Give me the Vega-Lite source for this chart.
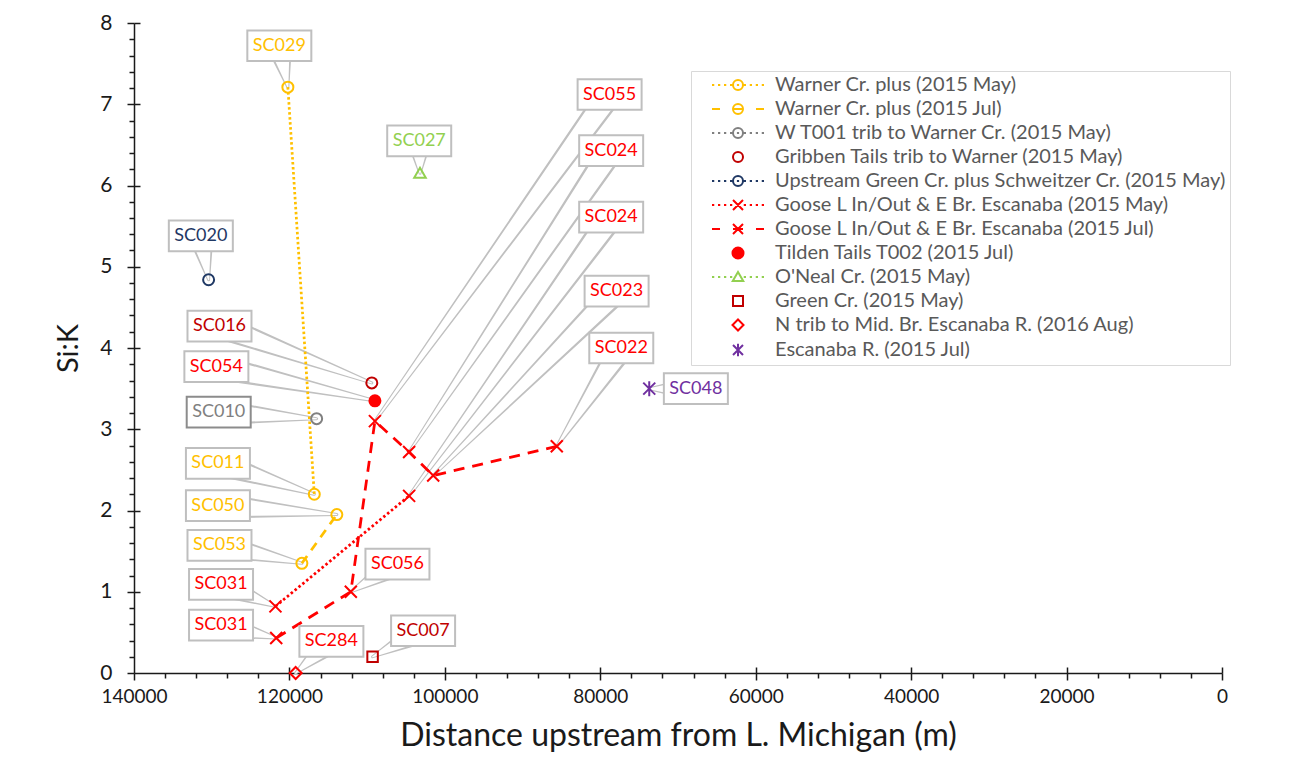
{
  "$schema": "https://vega.github.io/schema/vega-lite/v6.json",
  "width": 1088,
  "height": 650,
  "autosize": {"type": "none"},
  "padding": {"left": 134, "top": 23, "right": 69, "bottom": 90},
  "background": "white",
  "config": {
    "view": {"stroke": null},
    "font": "Lato",
    "legend": {
      "padding": 4,
      "fillColor": "white",
      "strokeColor": "#d9d9d9",
      "labelFont": "Lato",
      "labelFontSize": 20,
      "labelColor": "#595959",
      "labelLimit": 0,
      "symbolSize": 100,
      "symbolStrokeWidth": 2,
      "symbolOpacity": 1,
      "symbolOffset": 33,
      "labelOffset": 27,
      "rowPadding": 4
    }
  },
  "datasets": {
    "main": [
      {"series": "Warner Cr. plus (2015 May)", "site": "SC029", "dist": 120200, "sik": 7.21, "lx": 121300, "ly": 7.72},
      {"series": "Warner Cr. plus (2015 May)", "site": "SC011", "dist": 116800, "sik": 2.2, "lx": 129200, "ly": 2.58},
      {"series": "Warner Cr. plus (2015 Jul)", "site": "SC050", "dist": 113900, "sik": 1.95, "lx": 129200, "ly": 2.06},
      {"series": "Warner Cr. plus (2015 Jul)", "site": "SC053", "dist": 118400, "sik": 1.35, "lx": 129000, "ly": 1.57},
      {"series": "W T001 trib to Warner Cr. (2015 May)", "site": "SC010", "dist": 116500, "sik": 3.13, "lx": 129100, "ly": 3.21},
      {"series": "Gribben Tails trib to Warner (2015 May)", "site": "SC016", "dist": 109400, "sik": 3.57, "lx": 129000, "ly": 4.27},
      {"series": "Upstream Green Cr. plus Schweitzer Cr. (2015 May)", "site": "SC020", "dist": 130400, "sik": 4.84, "lx": 131400, "ly": 5.38},
      {"series": "Goose L In/Out & E Br. Escanaba (2015 May)", "site": "SC031", "dist": 121800, "sik": 0.82, "lx": 128800, "ly": 1.09},
      {"series": "Goose L In/Out & E Br. Escanaba (2015 May)", "site": "SC024", "dist": 104600, "sik": 2.18, "lx": 78600, "ly": 5.61},
      {"series": "Goose L In/Out & E Br. Escanaba (2015 Jul)", "site": "SC031", "dist": 121700, "sik": 0.43, "lx": 128800, "ly": 0.59},
      {"series": "Goose L In/Out & E Br. Escanaba (2015 Jul)", "site": "SC056", "dist": 112100, "sik": 1.0, "lx": 106100, "ly": 1.34},
      {"series": "Goose L In/Out & E Br. Escanaba (2015 Jul)", "site": "SC055", "dist": 109000, "sik": 3.1, "lx": 78800, "ly": 7.12},
      {"series": "Goose L In/Out & E Br. Escanaba (2015 Jul)", "site": "SC024", "dist": 104600, "sik": 2.72, "lx": 78600, "ly": 6.43},
      {"series": "Goose L In/Out & E Br. Escanaba (2015 Jul)", "site": "SC023", "dist": 101500, "sik": 2.43, "lx": 77900, "ly": 4.7},
      {"series": "Goose L In/Out & E Br. Escanaba (2015 Jul)", "site": "SC022", "dist": 85600, "sik": 2.79, "lx": 77300, "ly": 4.0},
      {"series": "Tilden Tails T002 (2015 Jul)", "site": "SC054", "dist": 109000, "sik": 3.35, "lx": 129400, "ly": 3.77},
      {"series": "O'Neal Cr. (2015 May)", "site": "SC027", "dist": 103200, "sik": 6.15, "lx": 103300, "ly": 6.55},
      {"series": "Green Cr. (2015 May)", "site": "SC007", "dist": 109300, "sik": 0.2, "lx": 102800, "ly": 0.52},
      {"series": "N trib to Mid. Br. Escanaba R. (2016 Aug)", "site": "SC284", "dist": 119200, "sik": 0.0, "lx": 114600, "ly": 0.39},
      {"series": "Escanaba R. (2015 Jul)", "site": "SC048", "dist": 73700, "sik": 3.5, "lx": 67700, "ly": 3.5}
    ]
  },
  "data": {"name": "main"},
  "resolve": {"axis": {"x": "independent", "y": "independent"}, "scale": {"size": "independent"}},
  "layer": [
    {
      "transform": [
        {"fold": ["dist", "lx"], "as": ["kx", "vx"]},
        {"fold": ["sik", "ly"], "as": ["ky", "vy"]},
        {"filter": "(datum.kx === 'dist') === (datum.ky === 'sik')"}
      ],
      "mark": {"type": "trail", "color": "#c0c0c0"},
      "encoding": {
        "x": {"field": "vx", "type": "quantitative", "scale": {"domain": [0, 140000], "reverse": true, "nice": false}, "axis": null},
        "y": {"field": "vy", "type": "quantitative", "scale": {"domain": [0, 8], "nice": false}, "axis": null},
        "detail": [{"field": "site"}, {"field": "series"}],
        "size": {"field": "kx", "type": "ordinal", "scale": {"type": "point", "domain": ["dist", "lx"], "range": [3, 26], "padding": 0}, "legend": null}
      }
    },
    {
      "transform": [
        {"fold": ["dist", "lx"], "as": ["kx", "vx"]},
        {"fold": ["sik", "ly"], "as": ["ky", "vy"]},
        {"filter": "(datum.kx === 'dist') === (datum.ky === 'sik')"}
      ],
      "mark": {"type": "trail", "color": "white"},
      "encoding": {
        "x": {"field": "vx", "type": "quantitative", "axis": null},
        "y": {"field": "vy", "type": "quantitative", "axis": null},
        "detail": [{"field": "site"}, {"field": "series"}],
        "size": {"field": "kx", "type": "ordinal", "scale": {"type": "point", "domain": ["dist", "lx"], "range": [0, 21], "padding": 0}, "legend": null}
      }
    },
    {
      "transform": [{"filter": {"field": "series", "oneOf": ["Warner Cr. plus (2015 May)", "Warner Cr. plus (2015 Jul)", "Goose L In/Out & E Br. Escanaba (2015 May)", "Goose L In/Out & E Br. Escanaba (2015 Jul)"]}}],
      "mark": {"type": "line", "strokeWidth": 2.75},
      "encoding": {
        "x": {"field": "dist", "type": "quantitative", "axis": {"orient": "bottom", "values": [0, 20000, 40000, 60000, 80000, 100000, 120000, 140000], "format": "d", "grid": false, "tickSize": 7, "tickWidth": 1.5, "tickColor": "#1a1a1a", "domainColor": "#1a1a1a", "domainWidth": 1.5, "labelFont": "Lato", "labelFontSize": 19, "labelColor": "#1a1a1a", "labelPadding": 7, "labelFlush": false, "labelOverlap": false, "title": "Distance upstream from L. Michigan (m)", "titleFont": "Lato", "titleFontSize": 32, "titleFontWeight": "normal", "titleColor": "#1a1a1a", "titlePadding": 14}},
        "y": {"field": "sik", "type": "quantitative", "axis": {"orient": "left", "values": [0, 1, 2, 3, 4, 5, 6, 7, 8], "grid": false, "tickSize": 7, "tickWidth": 1.5, "tickColor": "#1a1a1a", "domainColor": "#1a1a1a", "domainWidth": 1.5, "labelFont": "Lato", "labelFontSize": 21, "labelColor": "#1a1a1a", "labelPadding": 15, "labelFlush": false, "title": "Si:K", "titleFont": "Lato", "titleFontSize": 29, "titleFontWeight": "normal", "titleColor": "#1a1a1a", "titlePadding": 16}},
        "stroke": {"field": "series", "type": "nominal"},
        "strokeDash": {"field": "series", "type": "nominal", "scale": {"domain": ["Warner Cr. plus (2015 May)", "Warner Cr. plus (2015 Jul)", "Goose L In/Out & E Br. Escanaba (2015 May)", "Goose L In/Out & E Br. Escanaba (2015 Jul)"], "range": [[2.5, 2.5], [9, 7], [2.5, 2.5], [11, 8]]}, "legend": null}
      }
    },
    {
      "transform": [{"filter": {"field": "series", "oneOf": ["Warner Cr. plus (2015 May)", "Warner Cr. plus (2015 Jul)", "W T001 trib to Warner Cr. (2015 May)", "Gribben Tails trib to Warner (2015 May)", "Upstream Green Cr. plus Schweitzer Cr. (2015 May)", "Tilden Tails T002 (2015 Jul)"]}}],
      "mark": {"type": "point", "shape": "circle", "size": 121, "strokeWidth": 2, "opacity": 1},
      "encoding": {
        "x": {"field": "dist", "type": "quantitative", "axis": {"orient": "bottom", "values": [4000, 8000, 12000, 16000, 24000, 28000, 32000, 36000, 44000, 48000, 52000, 56000, 64000, 68000, 72000, 76000, 84000, 88000, 92000, 96000, 104000, 108000, 112000, 116000, 124000, 128000, 132000, 136000], "labels": false, "domain": false, "grid": false, "tickSize": 5, "tickWidth": 1.5, "tickColor": "#1a1a1a", "title": null}},
        "y": {"field": "sik", "type": "quantitative", "axis": {"orient": "left", "values": [0.2, 0.4, 0.6, 0.8, 1.2, 1.4, 1.6, 1.8, 2.2, 2.4, 2.6, 2.8, 3.2, 3.4, 3.6, 3.8, 4.2, 4.4, 4.6, 4.8, 5.2, 5.4, 5.6, 5.8, 6.2, 6.4, 6.6, 6.8, 7.2, 7.4, 7.6, 7.8], "labels": false, "domain": false, "grid": false, "tickSize": 5, "tickWidth": 1.5, "tickColor": "#1a1a1a", "title": null}},
        "stroke": {"field": "series", "type": "nominal"},
        "fill": {"field": "series", "type": "nominal"}
      }
    },
    {
      "transform": [{"filter": {"field": "series", "oneOf": ["Goose L In/Out & E Br. Escanaba (2015 May)", "Goose L In/Out & E Br. Escanaba (2015 Jul)"]}}],
      "mark": {"type": "point", "shape": "M-1,-1L1,1M-1,1L1,-1", "size": 144, "strokeWidth": 2, "opacity": 1},
      "encoding": {
        "x": {"field": "dist", "type": "quantitative", "axis": {"orient": "bottom", "values": [0, 20000, 40000, 60000, 80000, 100000, 120000], "labels": false, "domain": false, "grid": false, "tickSize": 6, "offset": -6, "tickWidth": 1.5, "tickColor": "#1a1a1a", "title": null}},
        "y": {"field": "sik", "type": "quantitative", "axis": {"orient": "left", "values": [1, 2, 3, 4, 5, 6, 7, 8], "labels": false, "domain": false, "grid": false, "tickSize": 6, "offset": -6, "tickWidth": 1.5, "tickColor": "#1a1a1a", "title": null}},
        "stroke": {"field": "series", "type": "nominal"},
        "fill": {"field": "series", "type": "nominal"}
      }
    },
    {
      "transform": [{"filter": {"field": "series", "equal": "O'Neal Cr. (2015 May)"}}],
      "mark": {"type": "point", "shape": "M0,-1L1.05,0.8L-1.05,0.8Z", "size": 121, "strokeWidth": 2, "opacity": 1},
      "encoding": {
        "x": {"field": "dist", "type": "quantitative", "axis": null},
        "y": {"field": "sik", "type": "quantitative", "axis": null},
        "stroke": {"field": "series", "type": "nominal"},
        "fill": {"field": "series", "type": "nominal"}
      }
    },
    {
      "transform": [{"filter": {"field": "series", "equal": "Green Cr. (2015 May)"}}],
      "mark": {"type": "point", "shape": "M-1,-1L1,-1L1,1L-1,1Z", "size": 110, "strokeWidth": 2, "opacity": 1},
      "encoding": {
        "x": {"field": "dist", "type": "quantitative", "axis": null},
        "y": {"field": "sik", "type": "quantitative", "axis": null},
        "stroke": {"field": "series", "type": "nominal"},
        "fill": {"field": "series", "type": "nominal"}
      }
    },
    {
      "transform": [{"filter": {"field": "series", "equal": "N trib to Mid. Br. Escanaba R. (2016 Aug)"}}],
      "mark": {"type": "point", "shape": "M0,-1L1,0L0,1L-1,0Z", "size": 144, "strokeWidth": 2, "opacity": 1},
      "encoding": {
        "x": {"field": "dist", "type": "quantitative", "axis": null},
        "y": {"field": "sik", "type": "quantitative", "axis": null},
        "stroke": {"field": "series", "type": "nominal"},
        "fill": {"field": "series", "type": "nominal"}
      }
    },
    {
      "transform": [{"filter": {"field": "series", "equal": "Escanaba R. (2015 Jul)"}}],
      "mark": {"type": "point", "shape": "M-1,-1L1,1M-1,1L1,-1M0,-1.25L0,1.25", "size": 144, "strokeWidth": 2, "opacity": 1},
      "encoding": {
        "x": {"field": "dist", "type": "quantitative", "axis": null},
        "y": {"field": "sik", "type": "quantitative", "axis": null},
        "stroke": {"field": "series", "type": "nominal"},
        "fill": {"field": "series", "type": "nominal"}
      }
    },
    {
      "transform": [{"filter": {"field": "series", "equal": "__legend_only__"}}],
      "mark": {"type": "point", "strokeWidth": 2, "opacity": 1},
      "encoding": {
        "x": {"field": "dist", "type": "quantitative", "axis": null},
        "y": {"field": "sik", "type": "quantitative", "axis": null},
        "stroke": {"field": "series", "type": "nominal", "scale": {
          "domain": ["Warner Cr. plus (2015 May)", "Warner Cr. plus (2015 Jul)", "W T001 trib to Warner Cr. (2015 May)", "Gribben Tails trib to Warner (2015 May)", "Upstream Green Cr. plus Schweitzer Cr. (2015 May)", "Goose L In/Out & E Br. Escanaba (2015 May)", "Goose L In/Out & E Br. Escanaba (2015 Jul)", "Tilden Tails T002 (2015 Jul)", "O'Neal Cr. (2015 May)", "Green Cr. (2015 May)", "N trib to Mid. Br. Escanaba R. (2016 Aug)", "Escanaba R. (2015 Jul)"],
          "range": ["#FFC000", "#FFC000", "#808080", "#C00000", "#1F3864", "#FF0000", "#FF0000", "#FF0000", "#92D050", "#C00000", "#FF0000", "#7030A0"]},
          "legend": {"orient": "none", "legendX": 557, "legendY": 48, "title": null}},
        "fill": {"field": "series", "type": "nominal", "scale": {
          "domain": ["Warner Cr. plus (2015 May)", "Warner Cr. plus (2015 Jul)", "W T001 trib to Warner Cr. (2015 May)", "Gribben Tails trib to Warner (2015 May)", "Upstream Green Cr. plus Schweitzer Cr. (2015 May)", "Goose L In/Out & E Br. Escanaba (2015 May)", "Goose L In/Out & E Br. Escanaba (2015 Jul)", "Tilden Tails T002 (2015 Jul)", "O'Neal Cr. (2015 May)", "Green Cr. (2015 May)", "N trib to Mid. Br. Escanaba R. (2016 Aug)", "Escanaba R. (2015 Jul)"],
          "range": ["transparent", "transparent", "transparent", "transparent", "transparent", "transparent", "transparent", "#FF0000", "transparent", "transparent", "transparent", "transparent"]},
          "legend": {"orient": "none", "legendX": 557, "legendY": 48, "title": null}},
        "shape": {"field": "series", "type": "nominal", "scale": {
          "domain": ["Warner Cr. plus (2015 May)", "Warner Cr. plus (2015 Jul)", "W T001 trib to Warner Cr. (2015 May)", "Gribben Tails trib to Warner (2015 May)", "Upstream Green Cr. plus Schweitzer Cr. (2015 May)", "Goose L In/Out & E Br. Escanaba (2015 May)", "Goose L In/Out & E Br. Escanaba (2015 Jul)", "Tilden Tails T002 (2015 Jul)", "O'Neal Cr. (2015 May)", "Green Cr. (2015 May)", "N trib to Mid. Br. Escanaba R. (2016 Aug)", "Escanaba R. (2015 Jul)"],
          "range": [
            "M-5.2,0L-4.75,0M-4,0L-3.55,0M-2.8,0L-2.35,0M-1.6,0L-1.15,0M-0.22,0L0.22,0M1.15,0L1.6,0M2.35,0L2.8,0M3.55,0L4,0M4.75,0L5.2,0M1,0A1,1 0 1,1 -1,0A1,1 0 1,1 1,0",
            "M-5.2,0L-3.6,0M-1,0L1,0M3.6,0L5.2,0M1,0A1,1 0 1,1 -1,0A1,1 0 1,1 1,0",
            "M-5.2,0L-4.75,0M-4,0L-3.55,0M-2.8,0L-2.35,0M-1.6,0L-1.15,0M-0.22,0L0.22,0M1.15,0L1.6,0M2.35,0L2.8,0M3.55,0L4,0M4.75,0L5.2,0M1,0A1,1 0 1,1 -1,0A1,1 0 1,1 1,0",
            "M1,0A1,1 0 1,1 -1,0A1,1 0 1,1 1,0",
            "M-5.2,0L-4.75,0M-4,0L-3.55,0M-2.8,0L-2.35,0M-1.6,0L-1.15,0M-0.22,0L0.22,0M1.15,0L1.6,0M2.35,0L2.8,0M3.55,0L4,0M4.75,0L5.2,0M1,0A1,1 0 1,1 -1,0A1,1 0 1,1 1,0",
            "M-5.2,0L-4.75,0M-4,0L-3.55,0M-2.8,0L-2.35,0M-1.6,0L-1.15,0M1.15,0L1.6,0M2.35,0L2.8,0M3.55,0L4,0M4.75,0L5.2,0M-1,-1L1,1M-1,1L1,-1",
            "M-5.2,0L-3.6,0M-1,0L1,0M3.6,0L5.2,0M-1,-1L1,1M-1,1L1,-1",
            "M1.1,0A1.1,1.1 0 1,1 -1.1,0A1.1,1.1 0 1,1 1.1,0Z",
            "M-5.2,0L-4.75,0M-4,0L-3.55,0M-2.8,0L-2.35,0M-1.6,0L-1.15,0M1.15,0L1.6,0M2.35,0L2.8,0M3.55,0L4,0M4.75,0L5.2,0M0,-1L1.05,0.8L-1.05,0.8Z",
            "M-1,-1L1,-1L1,1L-1,1Z",
            "M0,-1.1L1.1,0L0,1.1L-1.1,0Z",
            "M-1,-1L1,1M-1,1L1,-1M0,-1.25L0,1.25"
          ]},
          "legend": {"orient": "none", "legendX": 557, "legendY": 48, "title": null}}
      }
    },
    {
      "mark": {"type": "point", "shape": "M-1,-0.48L1,-0.48L1,0.48L-1,0.48Z", "size": 4096, "fill": "white", "strokeWidth": 2, "opacity": 1, "fillOpacity": 1},
      "encoding": {
        "x": {"field": "lx", "type": "quantitative", "axis": null},
        "y": {"field": "ly", "type": "quantitative", "axis": null},
        "stroke": {"condition": {"test": "datum.site === 'SC010'", "value": "#8c8c8c"}, "value": "#bfbfbf"}
      }
    },
    {
      "mark": {"type": "text", "font": "Lato", "fontSize": 18, "align": "center", "baseline": "middle"},
      "encoding": {
        "x": {"field": "lx", "type": "quantitative", "axis": null},
        "y": {"field": "ly", "type": "quantitative", "axis": null},
        "text": {"field": "site"},
        "color": {"field": "series", "type": "nominal", "legend": null, "scale": {
          "domain": ["Warner Cr. plus (2015 May)", "Warner Cr. plus (2015 Jul)", "W T001 trib to Warner Cr. (2015 May)", "Gribben Tails trib to Warner (2015 May)", "Upstream Green Cr. plus Schweitzer Cr. (2015 May)", "Goose L In/Out & E Br. Escanaba (2015 May)", "Goose L In/Out & E Br. Escanaba (2015 Jul)", "Tilden Tails T002 (2015 Jul)", "O'Neal Cr. (2015 May)", "Green Cr. (2015 May)", "N trib to Mid. Br. Escanaba R. (2016 Aug)", "Escanaba R. (2015 Jul)"],
          "range": ["#FFC000", "#FFC000", "#808080", "#C00000", "#1F3864", "#FF0000", "#FF0000", "#FF0000", "#92D050", "#C00000", "#FF0000", "#7030A0"]}}
      }
    }
  ]
}
